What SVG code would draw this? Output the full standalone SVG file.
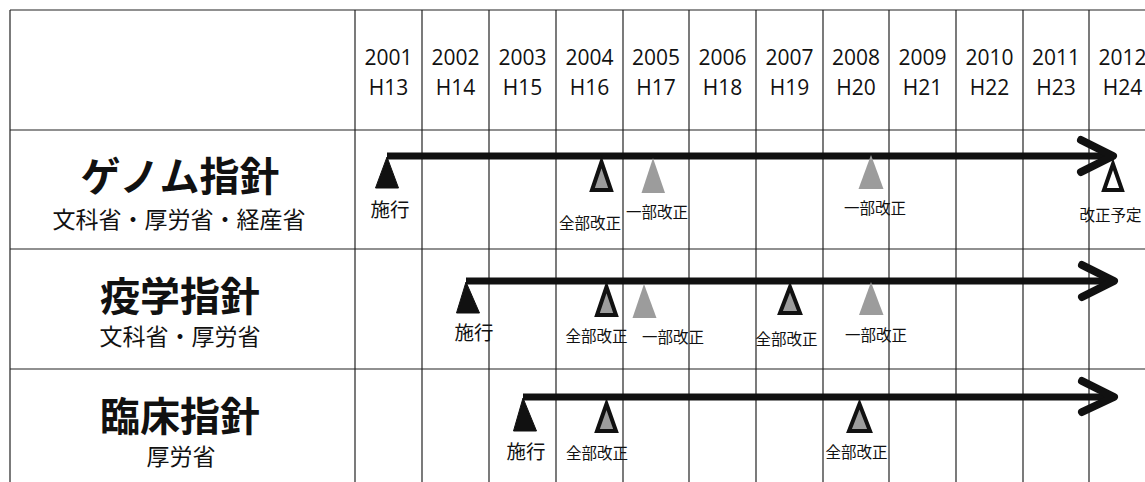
<svg xmlns="http://www.w3.org/2000/svg" width="1145" height="482" viewBox="0 0 1145 482">
<style>
.grid{stroke:#222;stroke-width:1.2;fill:none}
.hdr{font-family:"Open Sans","Liberation Sans",sans-serif;font-size:21px;fill:#111;text-anchor:middle}
.title{font-family:"Noto Sans CJK JP",sans-serif;font-weight:bold;font-size:40px;fill:#111;text-anchor:middle}
.sub{font-family:"Noto Sans CJK JP",sans-serif;font-size:23px;fill:#111;text-anchor:middle}
.lbl{font-family:"Noto Sans CJK JP",sans-serif;font-size:15.5px;fill:#111;text-anchor:middle}
.lblb{font-family:"Noto Sans CJK JP",sans-serif;font-size:19.5px;fill:#111;text-anchor:middle}
.tblack{fill:#111;stroke:#111;stroke-width:1;stroke-linejoin:round}
.tgray{fill:#9c9c9c}
.tfull{fill:#9c9c9c;stroke:#111;stroke-width:4;stroke-linejoin:miter}
.tplan{fill:#fff;stroke:#111;stroke-width:4;stroke-linejoin:miter}
.bar{stroke:#111;stroke-width:7;fill:none}
.head{stroke:#111;stroke-width:8;fill:none;stroke-linecap:round;stroke-linejoin:round}
</style>
<rect width="1145" height="482" fill="#fff"/>
<g id="grid" class="grid">
<line x1="10" y1="10" x2="1145" y2="10"/>
<line x1="10" y1="130" x2="1145" y2="130"/>
<line x1="10" y1="249" x2="1145" y2="249"/>
<line x1="10" y1="369" x2="1145" y2="369"/>
<line x1="10" y1="10" x2="10" y2="482"/>
<line x1="355" y1="10" x2="355" y2="482"/>
<line x1="422" y1="10" x2="422" y2="482"/>
<line x1="489" y1="10" x2="489" y2="482"/>
<line x1="556" y1="10" x2="556" y2="482"/>
<line x1="623" y1="10" x2="623" y2="482"/>
<line x1="689" y1="10" x2="689" y2="482"/>
<line x1="756" y1="10" x2="756" y2="482"/>
<line x1="823" y1="10" x2="823" y2="482"/>
<line x1="889" y1="10" x2="889" y2="482"/>
<line x1="956" y1="10" x2="956" y2="482"/>
<line x1="1023" y1="10" x2="1023" y2="482"/>
<line x1="1089" y1="10" x2="1089" y2="482"/>
</g>
<g id="header" class="hdr">
<text x="388.5" y="65">2001</text><text x="388.5" y="95">H13</text>
<text x="455.5" y="65">2002</text><text x="455.5" y="95">H14</text>
<text x="522.5" y="65">2003</text><text x="522.5" y="95">H15</text>
<text x="589.5" y="65">2004</text><text x="589.5" y="95">H16</text>
<text x="656" y="65">2005</text><text x="656" y="95">H17</text>
<text x="722.5" y="65">2006</text><text x="722.5" y="95">H18</text>
<text x="789.5" y="65">2007</text><text x="789.5" y="95">H19</text>
<text x="856" y="65">2008</text><text x="856" y="95">H20</text>
<text x="922.5" y="65">2009</text><text x="922.5" y="95">H21</text>
<text x="989.5" y="65">2010</text><text x="989.5" y="95">H22</text>
<text x="1056" y="65">2011</text><text x="1056" y="95">H23</text>
<text x="1122.5" y="65">2012</text><text x="1122.5" y="95">H24</text>
</g>
<g id="genome-label">
<text class="title" x="180" y="191">ゲノム指針</text>
<text class="sub" x="179" y="228">文科省・厚労省・経産省</text>
</g>
<g id="epi-label">
<text class="title" x="180" y="311">疫学指針</text>
<text class="sub" x="180" y="345">文科省・厚労省</text>
</g>
<g id="clinical-label">
<text class="title" x="180" y="431">臨床指針</text>
<text class="sub" x="181" y="465">厚労省</text>
</g>
<g id="connectors">
<line class="bar" x1="387" y1="156" x2="1110" y2="156"/>
<polyline class="head" points="1081,140 1113,156 1081,172"/>
<line class="bar" x1="466" y1="281" x2="1111" y2="281"/>
<polyline class="head" points="1082,265 1114,281 1082,297"/>
<line class="bar" x1="523" y1="397" x2="1111" y2="397"/>
<polyline class="head" points="1082,381 1114,397 1082,412"/>
</g>
<g id="genome-2001">
<polygon class="tblack" points="387,157 375.5,188 398.5,188"/>
<text class="lblb" x="390" y="217">施行</text>
</g>
<g id="genome-2004">
<polygon class="tfull" points="601.5,162 592,190 611,190"/>
<text class="lbl" x="590" y="229">全部改正</text>
</g>
<g id="genome-2005">
<polygon class="tgray" points="653,158 641.5,193 665,193"/>
<text class="lbl" x="657" y="218">一部改正</text>
</g>
<g id="genome-2008">
<polygon class="tgray" points="871,155 858.5,189 883.5,189"/>
<text class="lbl" x="875" y="214">一部改正</text>
</g>
<g id="genome-2012">
<polygon class="tplan" points="1113,164 1104,190 1122,190"/>
<text class="lbl" x="1110.5" y="221">改正予定</text>
</g>
<g id="epi-2002">
<polygon class="tblack" points="466,282 456.5,313 479.5,313"/>
<text class="lblb" x="474" y="340">施行</text>
</g>
<g id="epi-2004">
<polygon class="tfull" points="606.5,287 597,315 616,315"/>
<text class="lbl" x="596.5" y="342">全部改正</text>
</g>
<g id="epi-2005">
<polygon class="tgray" points="644,284 632.5,318 656.5,318"/>
<text class="lbl" x="673" y="343">一部改正</text>
</g>
<g id="epi-2007">
<polygon class="tfull" points="790,287 780,313 800,313"/>
<text class="lbl" x="786.5" y="345">全部改正</text>
</g>
<g id="epi-2008">
<polygon class="tgray" points="871,282 859,315 883.5,315"/>
<text class="lbl" x="876" y="341">一部改正</text>
</g>
<g id="clinical-2003">
<polygon class="tblack" points="523,398 513.5,431 536.5,431"/>
<text class="lblb" x="526" y="459">施行</text>
</g>
<g id="clinical-2004">
<polygon class="tfull" points="606.5,404 597,431 616,431"/>
<text class="lbl" x="597" y="459">全部改正</text>
</g>
<g id="clinical-2008">
<polygon class="tfull" points="859.5,404 849,431 870,431"/>
<text class="lbl" x="856.5" y="458">全部改正</text>
</g>
</svg>
